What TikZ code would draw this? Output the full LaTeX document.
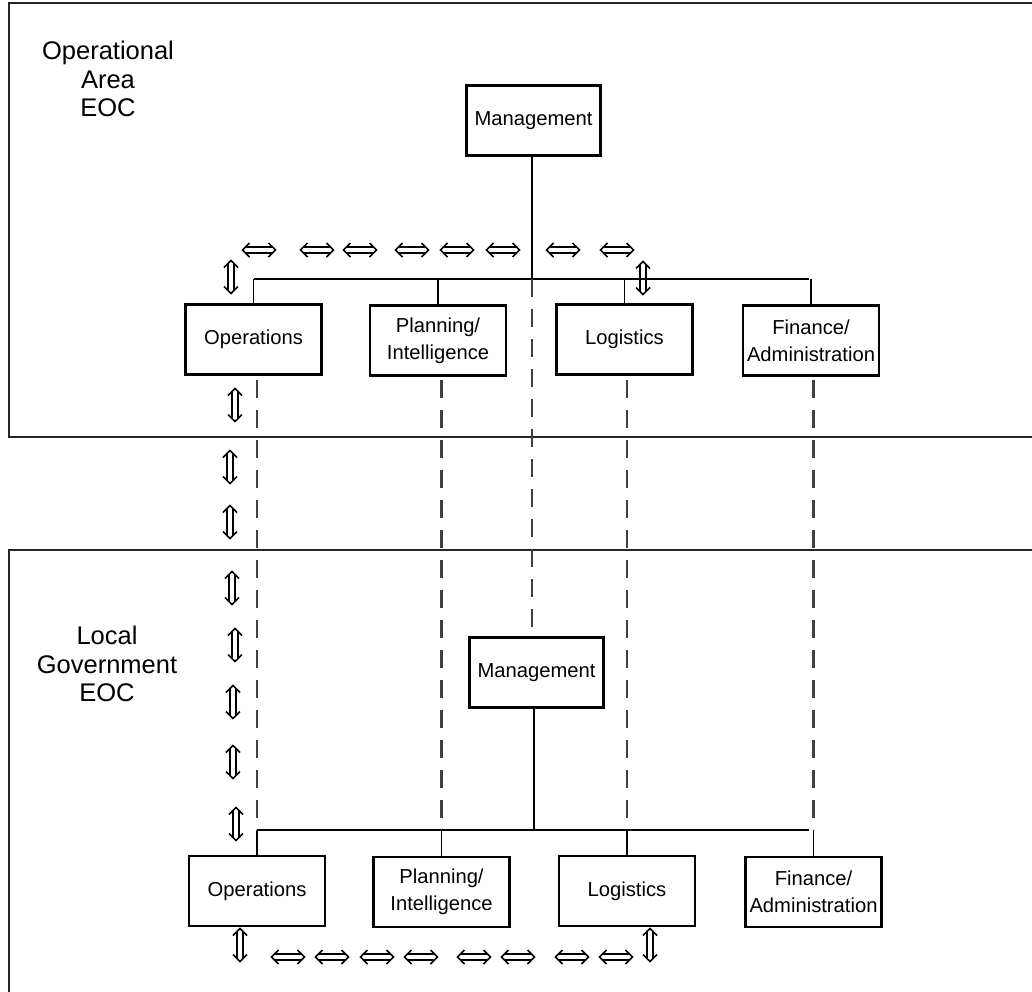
\documentclass[tikz,border=0pt]{standalone}
\usepackage{fontspec}
\setmainfont{Liberation Sans}
\begin{document}
\begin{tikzpicture}[x=1pt,y=-1pt,
  frame/.style={draw=black!85, line width=1.8pt},
  box/.style={draw, line width=2.6pt, minimum width=136pt, minimum height=70pt,
    inner sep=0pt, align=center, font=\fontsize{20.2}{27}\selectfont},
  twoline/.style={text depth=8pt},
  conn/.style={draw, line width=1.3pt},
  dashline/.style={draw=black!75, line width=2.2pt, dash pattern=on 18pt off 12pt},
  eoclabel/.style={align=center, inner sep=0pt, font=\fontsize{25.5}{28.8}\selectfont},
  harrow/.pic={
    \draw[line width=1.5pt, line join=miter] (-9.5,7) -- (-16.5,0) -- (-9.5,-7)
                                              (9.5,7) -- (16.5,0) -- (9.5,-7);
    \draw[line width=1.1pt] (-13.5,3) -- (13.5,3) (-13.5,-3) -- (13.5,-3);
  }
]
\useasboundingbox (0,0) rectangle (1032,991);
\clip (0,0) rectangle (1032,991);

% the two EOC frames
\draw[frame] (1040,3) -| (9,437) -- (1040,437);
\draw[frame] (1040,550) -| (9,1000);

\node[eoclabel] (lblA) at (108,79) {Operational\\Area\\EOC};
\node[eoclabel] (lblB) at (107,664) {Local\\Government\\EOC};

% Operational Area EOC organisation
\node[box, minimum width=134pt] (mgmtA) at (533.5,120.5) {Management};
\node[box] (opsA)  at (253.5,339.5) {Operations};
\node[box] (planA) at (438,340.5)   {Planning/\\Intelligence};
\node[box] (logA)  at (624.5,339.5) {Logistics};
\node[box] (finA)  at (811,340.5)   {Finance/\\Administration};

% Local Government EOC organisation
\node[box, minimum width=134pt] (mgmtB) at (536.5,672.5) {Management};
\node[box] (opsB)  at (257,891)   {Operations};
\node[box] (planB) at (441.5,892) {Planning/\\Intelligence};
\node[box] (logB)  at (627,891)   {Logistics};
\node[box] (finB)  at (813.5,892) {Finance/\\Administration};

\coordinate (busA) at (532,279);
\coordinate (busB) at (534,830);
\coordinate (dtop) at (0,380);
\coordinate (busAend) at (809,279);
\coordinate (busBend) at (809,830);

% top tree
\draw[conn] (mgmtA.south -| busA) -- (busA);
\draw[conn] (opsA.north |- busA) -- (busAend);
\foreach \n in {opsA,planA,logA,finA} \draw[conn] (\n.north) -- (\n |- busA);

% bottom tree
\draw[conn] (mgmtB.south -| busB) -- (busB);
\draw[conn] (opsB.north |- busB) -- (busBend);
\foreach \n in {opsB,planB,logB,finB} \draw[conn] (\n.north) -- (\n |- busB);

% links between the two levels
\foreach \n in {opsB,planB,logB,finB}
  \draw[dashline] (\n |- dtop) -- (\n |- busB);
\draw[dashline] (busA) -- (busA |- mgmtB.north);

% information flow arrows
\foreach \x in {259,317,360,412,457,503,563,617}
  \pic at (\x,250) {harrow};
\foreach \x in {288,332,377,421,474,518,572,616}
  \pic at (\x,957) {harrow};
\foreach \x/\y in {231/277,235/405,230/467,230/522,232/588,235/645,233/702,233/762,236/824,240/945,643/278,650/945}
  \pic[rotate=90] at (\x,\y) {harrow};
\end{tikzpicture}
\end{document}
